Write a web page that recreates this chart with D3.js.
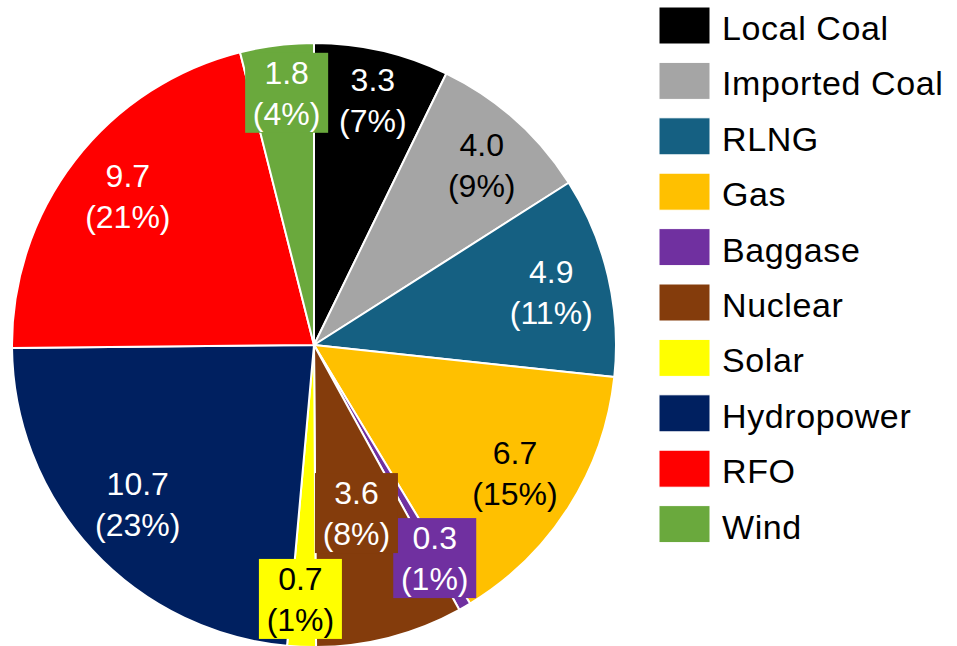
<!DOCTYPE html>
<html><head><meta charset="utf-8">
<script src="https://cdn.jsdelivr.net/npm/d3@7"></script>
<style>body{margin:0;background:#fff}svg{display:block}</style>
</head><body>
<svg id="c" width="957" height="646"></svg>
<script>
const categories = ["Local Coal","Imported Coal","RLNG","Gas","Baggase","Nuclear","Solar","Hydropower","RFO","Wind"];
const values = [3.3,4.0,4.9,6.7,0.3,3.6,0.7,10.7,9.7,1.8];
const percentLabels = ["7%","9%","11%","15%","1%","8%","1%","23%","21%","4%"];
const colors = ["#000000","#A5A5A5","#156082","#FFC000","#7030A0","#843C0C","#FFFF00","#002060","#FF0000","#6AA93D"];
const textColors = ["#fff","#000","#fff","#000","#fff","#fff","#000","#fff","#fff","#fff"];
const boxed = [false,false,false,false,true,true,true,false,false,true];
const labelRadius = [0.835,0.815,0.805,0.79,0.811,0.574,0.842,0.787,0.79,0.84];
const labelAngleShift = [0.5,1.2,0.6,0.1,0.4,0.4,0.7,0.6,1.1,0.9];

const svg = d3.select("#c");
const cx = 314, cy = 345, R = 302;
const FONT = "'Liberation Sans', Arial, sans-serif";
const g = svg.append("g").attr("transform", `translate(${cx},${cy})`);

const data = categories.map((c,i)=>({cat:c, v:values[i], i}));
const pie = d3.pie().value(d=>d.v).sort(null);
const arcs = pie(data);
const arc = d3.arc().innerRadius(0).outerRadius(R);

g.selectAll("path.s").data(arcs).join("path").attr("class","s")
  .attr("d", arc).attr("fill", d=>colors[d.data.i])
  .attr("stroke","#fff").attr("stroke-width",2).attr("stroke-linejoin","round");

const fs = 32, lh = 41;
const lab = g.selectAll("g.lab").data(arcs).join("g").attr("class","lab")
  .attr("transform", d=>{
    const r = R*labelRadius[d.data.i];
    const a = (d.startAngle + d.endAngle)/2 + labelAngleShift[d.data.i]*Math.PI/180;
    return `translate(${r*Math.sin(a)},${-r*Math.cos(a)})`;
  });
lab.each(function(d){
  const sel = d3.select(this);
  const i = d.data.i;
  const t = sel.append("text").attr("text-anchor","middle")
    .attr("font-family",FONT).attr("font-size",fs).attr("fill",textColors[i]);
  t.append("tspan").attr("x",0).attr("y",-lh/2 + fs*0.358).text(values[i].toFixed(1));
  t.append("tspan").attr("x",0).attr("y",lh/2 + fs*0.358).text("("+percentLabels[i]+")");
  if (boxed[i]) {
    const bb = t.node().getBBox();
    const w = Math.max(bb.width + 10, 83), h = 80;
    sel.insert("rect","text").attr("x",-w/2).attr("y",-h/2).attr("width",w).attr("height",h)
      .attr("fill",colors[i]);
  }
});

const leg = svg.append("g").attr("transform","translate(659,7)");
const row = leg.selectAll("g").data(categories).join("g")
  .attr("transform",(d,i)=>`translate(0,${i*55.4})`);
row.append("rect").attr("width",51).attr("height",37).attr("fill",(d,i)=>colors[i])
  .attr("stroke","#fff").attr("stroke-width",1);
row.append("text").attr("x",63).attr("y",33)
  .attr("font-family",FONT).attr("font-size",34).attr("letter-spacing","0.6px")
  .attr("fill","#000").text(d=>d);
</script>
</body></html>
